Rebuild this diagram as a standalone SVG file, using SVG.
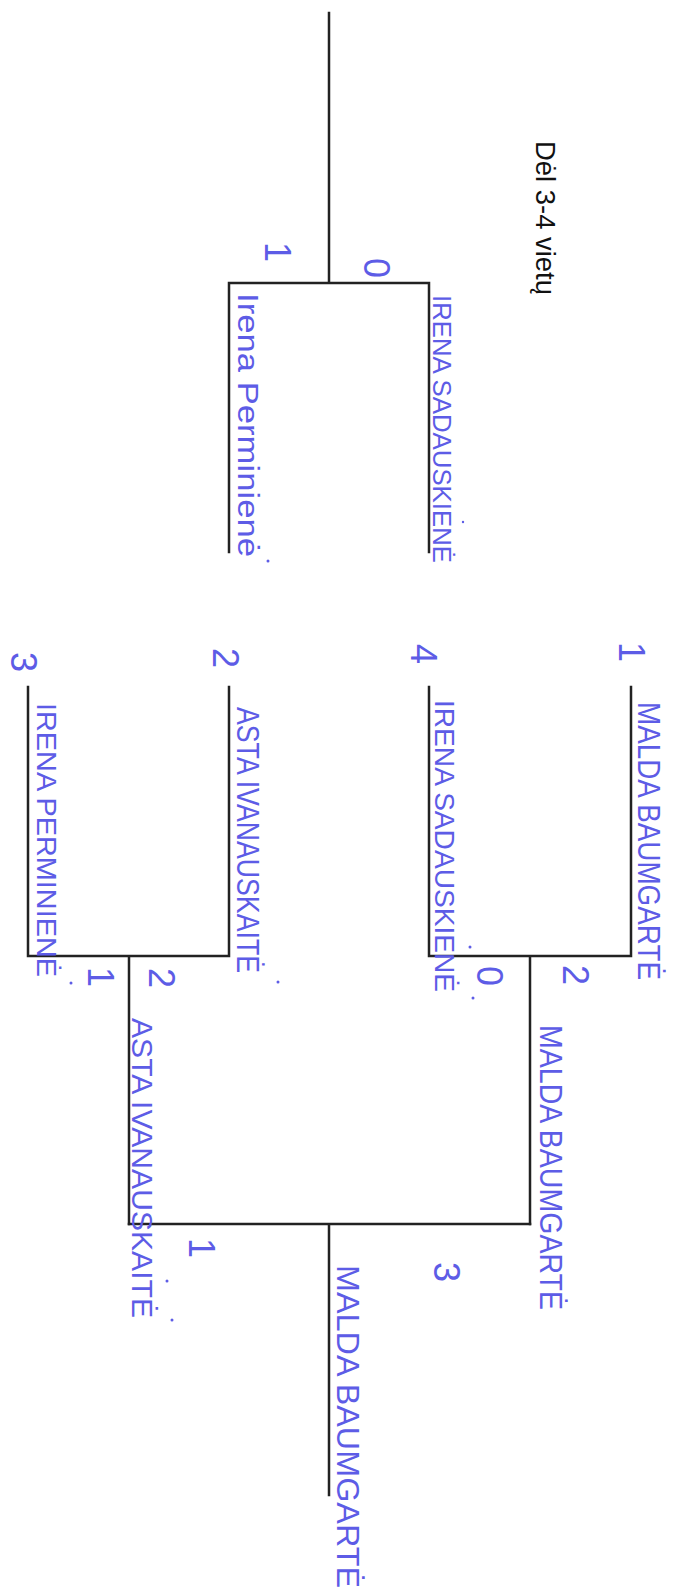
<svg xmlns="http://www.w3.org/2000/svg" width="685" height="1594" viewBox="0 0 685 1594">
<style>
.ln{fill:none;stroke:#222;stroke-width:2.5;stroke-linecap:square}
.hw{font-family:"Liberation Sans",Arial,sans-serif;fill:#5d5ce6}
.nm{font-size:28px}
.dg{font-size:36px;text-anchor:middle}
.pr{font-family:"Liberation Sans",Arial,sans-serif;font-size:27px;fill:#111}
.dot{fill:#5d5ce6}
</style>
<rect width="685" height="1594" fill="#fff"/>
<g id="connectors">
<path class="ln" d="M329,13 V283 M229,552 V283 H429 V552"/>
<path class="ln" d="M429,687 V956 H631 V687 M530,956 V1224"/>
<path class="ln" d="M28,687 V956 H229 V687 M129,956 V1224"/>
<path class="ln" d="M129,1224 H530 M329,1224 V1495"/>
</g>
<g id="title"><text class="pr" transform="translate(536,141) rotate(90)" textLength="154" lengthAdjust="spacingAndGlyphs">Dėl 3-4 vietų</text></g>
<g id="third-place">
<text class="hw nm" transform="translate(433,295) rotate(90)" textLength="268" lengthAdjust="spacingAndGlyphs" style="font-size:26px">IRENA SADAUSKIENĖ</text>
<text class="hw nm" transform="translate(238,293) rotate(90)" textLength="264" lengthAdjust="spacingAndGlyphs" style="font-size:30px">Irena Perminienė</text>
<text class="hw dg" transform="translate(265,252) rotate(90)">1</text>
<text class="hw dg" transform="translate(364,268) rotate(90)">0</text>
<circle class="dot" cx="268" cy="561" r="1.5"/><circle class="dot" cx="463" cy="522" r="1.2"/>
</g>
<g id="semi-a">
<text class="hw nm" transform="translate(638,702) rotate(90)" textLength="278" lengthAdjust="spacingAndGlyphs" style="font-size:32px">MALDA BAUMGARTĖ</text>
<text class="hw nm" transform="translate(435,700) rotate(90)" textLength="292" lengthAdjust="spacingAndGlyphs">IRENA SADAUSKIENĖ</text>
<text class="hw dg" transform="translate(619,652) rotate(90)">1</text>
<text class="hw dg" transform="translate(411,654) rotate(90)">4</text>
<text class="hw dg" transform="translate(563,975) rotate(90)">2</text>
<text class="hw dg" transform="translate(477,976) rotate(90)">0</text>
<circle class="dot" cx="470" cy="947" r="1.5"/><circle class="dot" cx="473" cy="998" r="1.5"/>
</g>
<g id="semi-b">
<text class="hw nm" transform="translate(237,707) rotate(90)" textLength="266" lengthAdjust="spacingAndGlyphs" style="font-size:32px">ASTA IVANAUSKAITĖ</text>
<text class="hw nm" transform="translate(37,703) rotate(90)" textLength="274" lengthAdjust="spacingAndGlyphs">IRENA PERMINIENĖ</text>
<text class="hw dg" transform="translate(213,658) rotate(90)">2</text>
<text class="hw dg" transform="translate(11,662) rotate(90)">3</text>
<text class="hw dg" transform="translate(88,977) rotate(90)">1</text>
<text class="hw dg" transform="translate(149,978) rotate(90)">2</text>
<circle class="dot" cx="278" cy="982" r="1.5"/><circle class="dot" cx="71" cy="983" r="1.5"/>
</g>
<g id="final">
<text class="hw nm" transform="translate(540,1025) rotate(90)" textLength="285" lengthAdjust="spacingAndGlyphs" style="font-size:32px">MALDA BAUMGARTĖ</text>
<text class="hw nm" transform="translate(132,1018) rotate(90)" textLength="300" lengthAdjust="spacingAndGlyphs" style="font-size:30px">ASTA IVANAUSKAITĖ</text>
<text class="hw dg" transform="translate(189,1248) rotate(90)">1</text>
<text class="hw dg" transform="translate(434,1272) rotate(90)">3</text>
<circle class="dot" cx="167" cy="1281" r="1.5"/><circle class="dot" cx="172" cy="1320" r="1.5"/>
</g>
<g id="winner">
<text class="hw nm" transform="translate(337,1265) rotate(90)" textLength="323" lengthAdjust="spacingAndGlyphs" style="font-size:32px">MALDA BAUMGARTĖ</text>
</g>
</svg>
